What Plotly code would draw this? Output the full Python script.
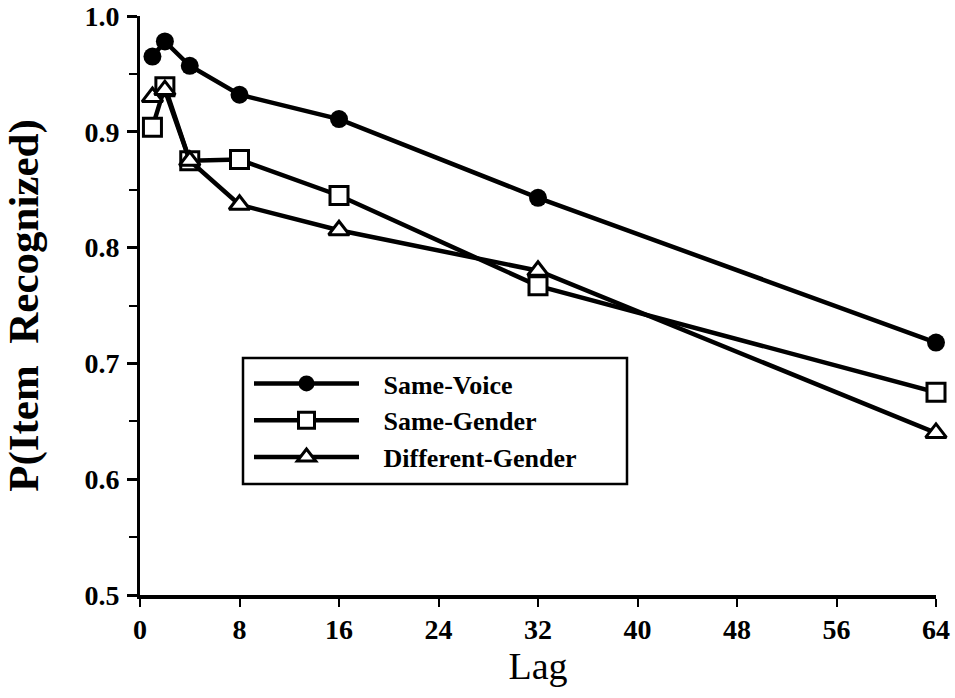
import plotly.graph_objects as go

lags = [1, 2, 4, 8, 16, 32, 64]
same_voice = [0.965, 0.978, 0.957, 0.932, 0.911, 0.843, 0.718]
same_gender = [0.904, 0.939, 0.875, 0.876, 0.845, 0.767, 0.675]
diff_gender = [0.930, 0.936, 0.875, 0.837, 0.815, 0.780, 0.640]
x_ticks = [0, 8, 16, 24, 32, 40, 48, 56, 64]
y_ticks = [0.5, 0.6, 0.7, 0.8, 0.9, 1.0]
series_names = ["Same-Voice", "Same-Gender", "Different-Gender"]

FONT = "Liberation Serif"
PAD = "\u2002\u2005"  # gap between legend sample and label

# plot area targeted at x 140..936, y 16..595 on the page (body margin removed)
L, T = 140, 16
PW, PH = 796, 579
W, H = 955, 698
R = W - L - PW
B = H - T - PH

fig = go.Figure()
fig.add_trace(go.Scatter(x=lags, y=same_voice, name=PAD + series_names[0], mode="lines+markers",
                         line=dict(color="black", width=4.5),
                         marker=dict(symbol="circle", size=18, color="black"),
                         cliponaxis=False))
fig.add_trace(go.Scatter(x=lags, y=same_gender, name=PAD + series_names[1], mode="lines+markers",
                         line=dict(color="black", width=4.5),
                         marker=dict(symbol="square", size=18, color="white",
                                     line=dict(color="black", width=3)),
                         cliponaxis=False))
fig.add_trace(go.Scatter(x=lags, y=diff_gender, name=PAD + series_names[2], mode="lines+markers",
                         line=dict(color="black", width=4.5),
                         marker=dict(symbol="triangle-up", size=18, color="white",
                                     line=dict(color="black", width=3)),
                         cliponaxis=False))

# legend frame (decoration)
fig.add_shape(type="rect", xref="paper", yref="paper",
              x0=(243 - L) / PW, x1=(627 - L) / PW,
              y0=(T + PH - 484) / PH, y1=(T + PH - 358) / PH,
              line=dict(color="black", width=2.5), fillcolor="white", layer="above")

fig.update_layout(
    width=W, height=H,
    margin=dict(l=L, r=R, t=T, b=B),
    plot_bgcolor="white", paper_bgcolor="white",
    font=dict(family=FONT, color="black"),
    showlegend=True,
    legend=dict(x=(249 - L) / PW, y=(T + PH - 360) / PH, xanchor="left", yanchor="top",
                bgcolor="rgba(0,0,0,0)", borderwidth=0,
                font=dict(family=FONT, size=26, weight="bold"),
                itemwidth=105, tracegroupgap=0),
    xaxis=dict(range=[0, 64], tickvals=x_ticks, ticktext=[str(v) for v in x_ticks],
               showgrid=False, zeroline=False, showline=True, linecolor="black", linewidth=4,
               ticks="outside", ticklen=8, tickwidth=2, tickcolor="black", automargin=False,
               tickfont=dict(family=FONT, size=28, weight="bold"), ticklabelstandoff=-2,
               title=dict(text="Lag", font=dict(family=FONT, size=38), standoff=8)),
    yaxis=dict(range=[0.5, 1.0], tickvals=y_ticks, ticktext=[f"{v:.1f}" for v in y_ticks],
               showgrid=False, zeroline=False, showline=True, linecolor="black", linewidth=3,
               ticks="outside", ticklen=10, tickwidth=2.5, tickcolor="black", automargin=False,
               ticklabeloverflow="allow",
               minor=dict(dtick=0.05, tick0=0.5, ticks="outside", ticklen=8, tickwidth=2, tickcolor="black"),
               tickfont=dict(family=FONT, size=28, weight="bold"), ticklabelstandoff=2,
               title=dict(text="P(Item  Recognized)", font=dict(family=FONT, size=43, weight="bold"), standoff=39)),
)

fig.write_html("out.html", config={"displayModeBar": False},
               post_script="document.body.style.margin='0px';")
